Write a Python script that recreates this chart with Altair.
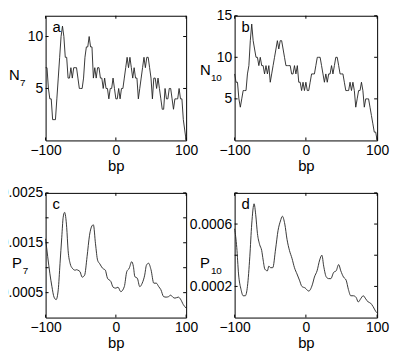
import altair as alt
import pandas as pd

# ---- data ----
BP = list(range(-100, 101, 2))
N7 = [7, 7, 5, 4, 4, 2, 2, 2, 4, 6,
      8, 10, 11, 10, 8, 8, 6, 6, 7, 6,
      7, 7, 7, 6, 5, 5, 5, 6, 8, 9,
      9, 10, 9, 9, 6, 7, 6, 7, 7, 6,
      6, 5, 6, 5, 5, 4, 5, 5, 6, 5,
      4, 4, 5, 4, 5, 5, 6, 7, 8, 7,
      8, 7, 6, 7, 6, 6, 4, 5, 6, 7,
      8, 7, 8, 8, 7, 6, 4, 6, 6, 5,
      6, 5, 4, 3, 3, 5, 4, 4, 5, 5,
      4, 3, 4, 4, 4, 5, 4, 4, 2, 1,
      0]
N10 = [8, 7, 7, 5, 4, 5, 6, 6, 6, 8,
       9, 12, 14, 12, 11, 10, 10, 9, 10, 9,
       9, 8, 9, 8, 9, 7, 8, 9, 10, 11,
       12, 11, 12, 12, 11, 10, 9, 9, 9, 9,
       8, 8, 9, 8, 9, 7, 7, 6, 7, 6,
       7, 6, 6, 7, 8, 8, 8, 9, 10, 10,
       10, 9, 8, 7, 8, 7, 8, 8, 9, 8,
       9, 10, 10, 9, 8, 8, 8, 7, 6, 6,
       6, 7, 6, 7, 6, 4, 5, 6, 6, 7,
       6, 4, 5, 5, 5, 4, 3, 2, 1, 1,
       0]
P7_BP = [-100, -97, -94, -91, -88, -85, -82, -79.5, -77, -75, -73, -70, -68, -65,
         -62, -58, -56, -54, -51, -48, -44.5, -41, -37.5, -34, -32, -29, -26, -23,
         -19, -15, -12, -7, -4, 0, 3, 7, 12, 15.5, 19, 22.5, 25, 27, 30.5, 34,
         37.5, 41, 43.5, 46.5, 50, 54, 57.5, 61, 64, 68, 71.5, 75, 78, 81, 84,
         89, 92, 96, 100]
P7 = [0.00158, 0.00122, 0.00089, 0.00062, 0.00041, 0.00036, 0.00056, 0.00108,
      0.00161, 0.00201, 0.00211, 0.00181, 0.00135, 0.00108, 0.00099, 0.00095,
      0.00096, 0.00095, 0.00092, 0.00081, 0.00085, 0.00122, 0.00165, 0.00184,
      0.00186, 0.00148, 0.00115, 0.00108, 0.00099, 0.00095, 0.00079, 0.00072,
      0.00061, 0.00059, 0.00061, 0.00052, 0.00062, 0.00092, 0.00099, 0.00112,
      0.00102, 0.00082, 0.00079, 0.00062, 0.00069, 0.00085, 0.00105, 0.00109,
      0.00096, 0.00069, 0.00069, 0.00062, 0.00056, 0.00042, 0.00041, 0.00042,
      0.00045, 0.00041, 0.00039, 0.00041, 0.00037, 0.00026, 0.00019]
P10_BP = [-100, -97, -94.5, -91, -88, -85, -82, -78.7, -76, -72.7, -70.4, -68, -65,
          -62, -60, -57.5, -54, -52, -49.5, -46.5, -42.5, -39, -35.7, -33, -29.6,
          -26.4, -23, -19.5, -16, -12.5, -9, -5.6, -1, 4, 9, 12, 15.7, 19.4, 22.5,
          25, 28.7, 32, 35, 39, 42.5, 46, 49, 52.8, 56.5, 59.7, 63, 66.7, 70.4,
          73.6, 76.8, 80.5, 84, 87.5, 90.7, 94.4, 98, 100]
P10 = [0.00057, 0.00045, 0.00028, 0.00018, 0.00014, 0.00014, 0.0002, 0.00039,
       0.0006, 0.00073, 0.00066, 0.00054, 0.00047, 0.00043, 0.00037, 0.00031,
       0.0003, 0.00033, 0.00032, 0.00032, 0.00044, 0.00056, 0.00062, 0.00065,
       0.0006, 0.0005, 0.00043, 0.00038, 0.00032, 0.00028, 0.00024, 0.0002,
       0.00019, 0.00017, 0.00021, 0.00026, 0.0003, 0.00037, 0.0004, 0.00033,
       0.00026, 0.00025, 0.00025, 0.00029, 0.0003, 0.00034, 0.0003, 0.00026,
       0.00024, 0.00018, 0.00014, 0.00014, 0.00013, 0.0001, 0.00012, 0.00014,
       0.00012, 0.0001, 0.000093, 0.00007, 0.00004, 0.00003]

X_TICKS = [-100, 0, 100]
FONT = "Liberation Sans"
H = 126


def panel(xs, ys, ydom, tick_vals, label_vals, fmt, letter, sym, sub, w,
          interp, sym_x, sym_y):
    df = pd.DataFrame({"bp": xs, "v": ys})
    xsc = alt.Scale(domain=[-100, 100], nice=False, zero=False)
    ysc = alt.Scale(domain=ydom, nice=False, zero=False)
    xax = alt.Axis(values=X_TICKS, format="d", title="bp", ticks=False,
                   domain=False, grid=False, labelPadding=3, titlePadding=1,
                   labelFlush=False, labelOverlap=False)
    yax = alt.Axis(values=label_vals, format=fmt, title=None, ticks=False,
                   domain=False, grid=False, labelPadding=3, labelOverlap=False)
    line = alt.Chart(df).mark_line(color="#222222", strokeWidth=0.9,
                                   interpolate=interp).encode(
        x=alt.X("bp:Q", scale=xsc, axis=xax),
        y=alt.Y("v:Q", scale=ysc, axis=yax),
    )
    ydf = pd.DataFrame({"v": tick_vals})
    xdf = pd.DataFrame({"bp": X_TICKS})
    rule = dict(color="black", strokeWidth=1)
    yl = alt.Chart(ydf).mark_rule(**rule).encode(
        y=alt.Y("v:Q", scale=ysc, axis=yax), x=alt.value(0), x2=alt.value(3))
    yr = alt.Chart(ydf).mark_rule(**rule).encode(
        y=alt.Y("v:Q", scale=ysc, axis=yax), x=alt.value(w - 3), x2=alt.value(w))
    xb = alt.Chart(xdf).mark_rule(**rule).encode(
        x=alt.X("bp:Q", scale=xsc, axis=xax), y=alt.value(H - 3), y2=alt.value(H))
    xt = alt.Chart(xdf).mark_rule(**rule).encode(
        x=alt.X("bp:Q", scale=xsc, axis=xax), y=alt.value(0), y2=alt.value(3))
    lab = alt.Chart(pd.DataFrame({"s": [letter]})).mark_text(
        align="left", baseline="alphabetic", font=FONT, fontSize=15, color="black"
    ).encode(text="s:N", x=alt.value(7), y=alt.value(16))
    s1 = alt.Chart(pd.DataFrame({"s": [sym]})).mark_text(
        align="left", baseline="alphabetic", font=FONT, fontSize=15, color="black"
    ).encode(text="s:N", x=alt.value(sym_x), y=alt.value(sym_y))
    s2 = alt.Chart(pd.DataFrame({"s": [sub]})).mark_text(
        align="left", baseline="alphabetic", font=FONT, fontSize=10, color="black"
    ).encode(text="s:N", x=alt.value(sym_x + 11), y=alt.value(sym_y + 6))
    return alt.layer(line, yl, yr, xb, xt, lab, s1, s2).properties(width=w, height=H)


pa = panel(BP, N7, [0, 12], [5, 10], [5, 10], "d", "a", "N", "7", 142,
           "linear", -37, 65)
pb = panel(BP, N10, [0, 15], [5, 10, 15], [5, 10, 15], "d", "b", "N", "10", 144,
           "linear", -35, 60)
pc = panel(P7_BP, P7, [0, 0.0025], [0.0005, 0.001, 0.0015, 0.002, 0.0025],
           [0.0005, 0.0015, 0.0025], ".4f", "c", "P", "7", 142, "monotone", -34, 76)
pd_ = panel(P10_BP, P10, [0, 0.0008], [0.0002, 0.0004, 0.0006, 0.0008],
            [0.0002, 0.0006], ".4f", "d", "P", "10", 144, "monotone", -35, 76)

chart = alt.concat(pa, pb, pc, pd_, columns=2,
                   spacing={"row": 11, "column": -11}).properties(
    padding={"left": -9, "top": -2, "right": 0, "bottom": 3}
).configure_view(stroke="black", strokeWidth=1).configure_axis(
    labelFont=FONT, labelFontSize=14, labelColor="black",
    titleFont=FONT, titleFontSize=15, titleColor="black", titleFontWeight="normal"
)

chart.save("out.html", embed_options={"renderer": "svg", "actions": False})
